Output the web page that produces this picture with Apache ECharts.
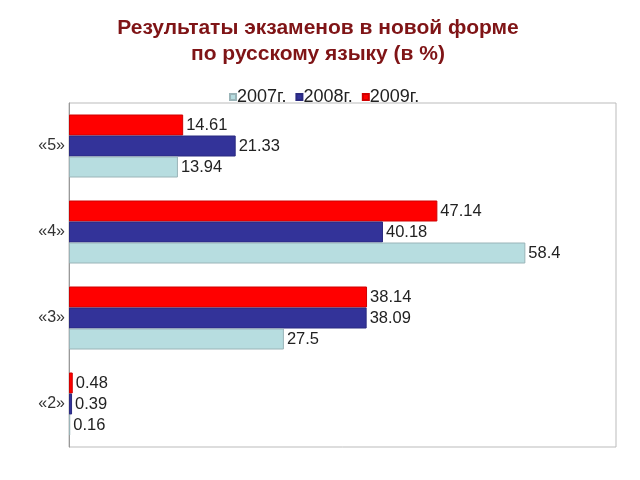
<!DOCTYPE html>
<html>
<head>
<meta charset="utf-8">
<script src="https://cdn.jsdelivr.net/npm/echarts@6/dist/echarts.min.js"></script>
<style>html,body{margin:0;padding:0;background:#fff;}#c{width:640px;height:480px;}</style>
</head>
<body>
<div id="c"></div>
<script>
var categories = ['«2»', '«3»', '«4»', '«5»'];
var seriesNames = ['2007г.', '2008г.', '2009г.'];
var values2007 = [0.16, 27.5, 58.4, 13.94];
var values2008 = [0.39, 38.09, 40.18, 21.33];
var values2009 = [0.48, 38.14, 47.14, 14.61];

var FONT = 'Liberation Sans, Arial, sans-serif';
var chart = echarts.init(document.getElementById('c'));
function mk(name, data, color, border) {
  return {
    name: name, type: 'bar', data: data, barWidth: 21, barGap: '0%',
    itemStyle: { color: color, borderColor: border, borderWidth: 1 },
    label: { show: true, position: 'right', distance: 3, color: '#222', fontSize: 16.5, fontFamily: FONT }
  };
}
chart.setOption({
  animation: false,
  title: {
    text: 'Результаты экзаменов в новой форме\nпо русскому языку (в %)',
    left: 313, top: 10, textAlign: 'center',
    textStyle: { color: '#7F1416', fontSize: 21, fontWeight: 'bold', lineHeight: 26, fontFamily: FONT }
  },
  legend: {
    data: seriesNames, left: 224, top: 83, itemWidth: 6, itemHeight: 6, itemGap: 9,
    icon: 'rect', textStyle: { fontSize: 18, color: '#222', padding: [0,0,0,-4], fontFamily: FONT }
  },
  grid: { left: 69, right: 24, top: 103, bottom: 33, show: true, borderColor: '#BBBBBB', borderWidth: 1 },
  xAxis: { type: 'value', min: 0, max: 70, show: false, splitLine: { show: false } },
  yAxis: {
    type: 'category', data: categories,
    axisLine: { lineStyle: { color: '#999' } }, axisTick: { show: false },
    axisLabel: { fontSize: 16, color: '#333', margin: 4, fontFamily: FONT }
  },
  series: [
    mk(seriesNames[2], values2009, '#FF0000', '#D00000'),
    mk(seriesNames[1], values2008, '#333399', '#2A2A80'),
    mk(seriesNames[0], values2007, '#B7DDE0', '#9AB4B8')
  ]
});
</script>
</body>
</html>
